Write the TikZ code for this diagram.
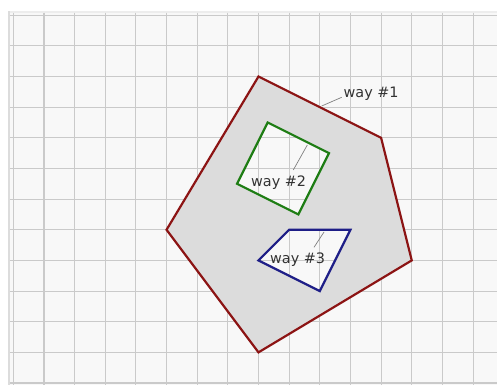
\documentclass[tikz,border=0pt]{standalone}
\usepackage{fontspec}
\setmainfont{DejaVu Sans}
\definecolor{panelbg}{HTML}{F8F8F8}
\definecolor{gridc}{HTML}{CACACA}
\definecolor{edgec}{HTML}{DCDCDC}
\definecolor{fillc}{HTML}{DCDCDC}
\definecolor{wayred}{RGB}{140,20,20}
\definecolor{waygreen}{RGB}{30,125,20}
\definecolor{wayblue}{RGB}{30,30,135}
\definecolor{txt}{HTML}{333333}
\definecolor{leader}{HTML}{808080}
\tikzset{
  gridline/.style={draw=gridc, line width=1.1pt},
  wayline/.style={line width=2.2pt, line join=miter},
  leaderline/.style={draw=leader, line width=0.7pt},
  waylabel/.style={anchor=base west, inner sep=0pt, text=txt, font=\fontsize{14.4}{16}\selectfont}
}
\begin{document}
\begin{tikzpicture}[x=30.65pt, y=-30.65pt]
\useasboundingbox (-0.43393,-0.49592) rectangle (15.78140,12.06525);
% panel
\fill[panelbg] (-0.173,-0.137) rectangle (15.78140,12.06525);
\fill[edgec] (-0.173,-0.137) rectangle (-0.108,12.06525);
\fill[black!7] (-0.108,-0.137) rectangle (15.78140,-0.082);
% grid
\foreach \i in {0,...,15} \draw[gridline] (\i,-0.082) -- (\i,12.06525);
\foreach \j in {0,...,12} \draw[gridline] (-0.108,\j) -- (15.78140,\j);
% way #1 with holes
\fill[fillc, even odd rule]
  (8,2) -- (12,4) -- (13,8) -- (8,11) -- (5,7) -- cycle
  (8.3,3.5) -- (10.3,4.5) -- (9.3,6.5) -- (7.3,5.5) -- cycle
  (9,7) -- (11,7) -- (10,9) -- (8,8) -- cycle;
\draw[wayline, draw=wayred] (8,2) -- (12,4) -- (13,8) -- (8,11) -- (5,7) -- cycle;
\draw[wayline, draw=waygreen] (8.3,3.5) -- (10.3,4.5) -- (9.3,6.5) -- (7.3,5.5) -- cycle;
\draw[wayline, draw=wayblue] (9,7) -- (11,7) -- (10,9) -- (8,8) -- cycle;
% labels
\node[waylabel] (l1) at (10.773,2.685) {way \#1};
\node[waylabel] (l2) at (7.755,5.589) {way \#2};
\node[waylabel] (l3) at (8.375,8.101) {way \#3};
\coordinate (p1) at (10.062,2.962);
\coordinate (q1) at (10.714,2.679);
\coordinate (p2) at (9.592,4.235);
\coordinate (q2) at (9.135,5.051);
\coordinate (p3) at (10.137,7.073);
\coordinate (q3) at (9.811,7.573);
\draw[leaderline] (p1) -- (q1);
\draw[leaderline] (p2) -- (q2);
\draw[leaderline] (p3) -- (q3);
\end{tikzpicture}
\end{document}
